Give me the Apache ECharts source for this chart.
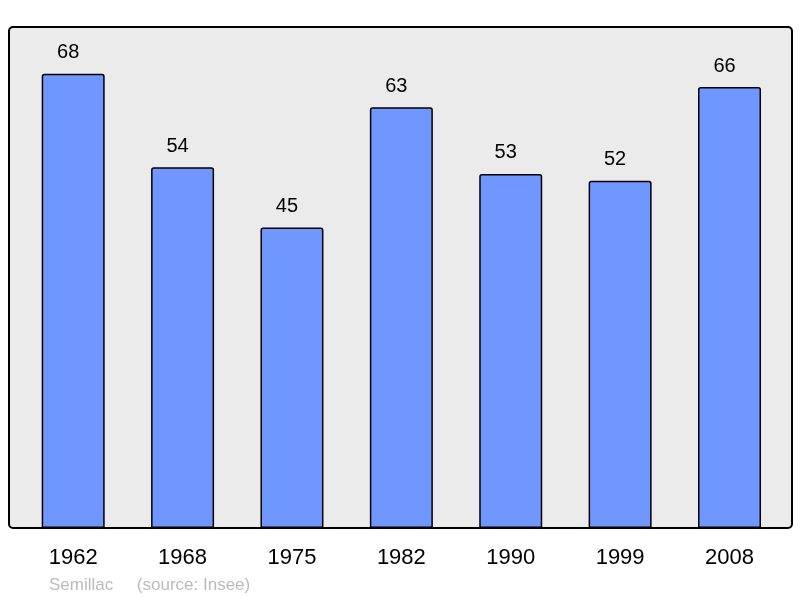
<!DOCTYPE html>
<html><head><meta charset="utf-8">
<script src="https://cdn.jsdelivr.net/npm/echarts@6/dist/echarts.min.js"></script>
<style>html,body{margin:0;padding:0;background:#fff}#c{width:800px;height:598px}</style>
</head><body><div id="c"></div>
<script>
var years = ['1962','1968','1975','1982','1990','1999','2008'];
var population = [68,54,45,63,53,52,66];
var footer = 'Semillac     (source: Insee)';

var chart = echarts.init(document.getElementById('c'), null, {renderer:'canvas'});
chart.setOption({
  animation:false,
  backgroundColor:'#ffffff',
  textStyle:{fontFamily:'Liberation Sans, Arial, sans-serif'},
  graphic:[
    {type:'rect', z:-1, shape:{x:9,y:27,width:783,height:501,r:4},
     style:{fill:'#ebebeb',stroke:'#000',lineWidth:2}},
    {type:'text', left:49, top:577, style:{text:footer, fill:'#bbbbbb', font:'17px Liberation Sans, Arial, sans-serif'}}
  ],
  grid:{left:18.5, right:15.8, top:27, bottom:70, containLabel:false},
  xAxis:{type:'category', data:years,
    axisLine:{show:false}, axisTick:{show:false},
    axisLabel:{color:'#000', fontSize:22, margin:19}},
  yAxis:{type:'value', min:0, max:75, show:false, splitLine:{show:false}},
  series:[{type:'bar', data:population, barWidth:63,
    itemStyle:{color:'#7096ff', borderColor:'#000', borderWidth:1.5, borderRadius:[2,2,0,0]},
    label:{show:true, position:'top', distance:11, offset:[-5,0], color:'#000', fontSize:20}}]
});
</script></body></html>
